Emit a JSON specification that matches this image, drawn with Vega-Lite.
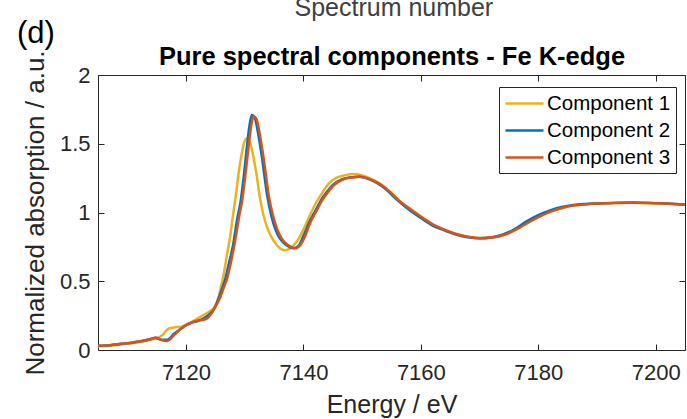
{
  "$schema": "https://vega.github.io/schema/vega-lite/v6.json",
  "width": 587,
  "height": 275,
  "autosize": {"type": "none"},
  "padding": {"left": 98, "top": 75, "right": 2, "bottom": 69},
  "background": "white",
  "datasets": {
    "spectra": [
      {"c":"Component 1","e":7105,"a":0.025},{"c":"Component 1","e":7107,"a":0.03},{"c":"Component 1","e":7109,"a":0.04},{"c":"Component 1","e":7111,"a":0.05},{"c":"Component 1","e":7112.5,"a":0.06},{"c":"Component 1","e":7114,"a":0.075},{"c":"Component 1","e":7115,"a":0.085},{"c":"Component 1","e":7116,"a":0.11},{"c":"Component 1","e":7117,"a":0.155},{"c":"Component 1","e":7118,"a":0.165},{"c":"Component 1","e":7119,"a":0.168},{"c":"Component 1","e":7120,"a":0.185},{"c":"Component 1","e":7121,"a":0.205},{"c":"Component 1","e":7122,"a":0.23},{"c":"Component 1","e":7123,"a":0.255},{"c":"Component 1","e":7124,"a":0.28},{"c":"Component 1","e":7124.8,"a":0.31},{"c":"Component 1","e":7125.5,"a":0.38},{"c":"Component 1","e":7126,"a":0.47},{"c":"Component 1","e":7126.5,"a":0.57},{"c":"Component 1","e":7127,"a":0.7},{"c":"Component 1","e":7127.5,"a":0.82},{"c":"Component 1","e":7128,"a":0.98},{"c":"Component 1","e":7128.5,"a":1.13},{"c":"Component 1","e":7129,"a":1.3},{"c":"Component 1","e":7129.5,"a":1.43},{"c":"Component 1","e":7130,"a":1.52},{"c":"Component 1","e":7130.4,"a":1.54},{"c":"Component 1","e":7130.9,"a":1.51},{"c":"Component 1","e":7131.5,"a":1.4},{"c":"Component 1","e":7132,"a":1.28},{"c":"Component 1","e":7132.5,"a":1.13},{"c":"Component 1","e":7133.2,"a":0.98},{"c":"Component 1","e":7134,"a":0.87},{"c":"Component 1","e":7135,"a":0.79},{"c":"Component 1","e":7136,"a":0.74},{"c":"Component 1","e":7136.8,"a":0.725},{"c":"Component 1","e":7137.6,"a":0.735},{"c":"Component 1","e":7138.5,"a":0.77},{"c":"Component 1","e":7139.2,"a":0.81},{"c":"Component 1","e":7140.2,"a":0.895},{"c":"Component 1","e":7141,"a":0.97},{"c":"Component 1","e":7142,"a":1.06},{"c":"Component 1","e":7143,"a":1.13},{"c":"Component 1","e":7144.3,"a":1.21},{"c":"Component 1","e":7145.5,"a":1.25},{"c":"Component 1","e":7147,"a":1.27},{"c":"Component 1","e":7148.5,"a":1.28},{"c":"Component 1","e":7150,"a":1.27},{"c":"Component 1","e":7151.5,"a":1.245},{"c":"Component 1","e":7153,"a":1.21},{"c":"Component 1","e":7154.5,"a":1.16},{"c":"Component 1","e":7156.2,"a":1.09},{"c":"Component 1","e":7158,"a":1.025},{"c":"Component 1","e":7160,"a":0.965},{"c":"Component 1","e":7162,"a":0.91},{"c":"Component 1","e":7164,"a":0.873},{"c":"Component 1","e":7166,"a":0.843},{"c":"Component 1","e":7168,"a":0.823},{"c":"Component 1","e":7170,"a":0.815},{"c":"Component 1","e":7172,"a":0.818},{"c":"Component 1","e":7174,"a":0.835},{"c":"Component 1","e":7176,"a":0.872},{"c":"Component 1","e":7178,"a":0.922},{"c":"Component 1","e":7180,"a":0.968},{"c":"Component 1","e":7182,"a":1.006},{"c":"Component 1","e":7184,"a":1.033},{"c":"Component 1","e":7186,"a":1.05},{"c":"Component 1","e":7188,"a":1.06},{"c":"Component 1","e":7190,"a":1.065},{"c":"Component 1","e":7193,"a":1.069},{"c":"Component 1","e":7196,"a":1.07},{"c":"Component 1","e":7199,"a":1.068},{"c":"Component 1","e":7202,"a":1.064},{"c":"Component 1","e":7205,"a":1.057},
      {"c":"Component 2","e":7105,"a":0.03},{"c":"Component 2","e":7107,"a":0.035},{"c":"Component 2","e":7109,"a":0.045},{"c":"Component 2","e":7111,"a":0.055},{"c":"Component 2","e":7112.5,"a":0.065},{"c":"Component 2","e":7114,"a":0.08},{"c":"Component 2","e":7114.8,"a":0.09},{"c":"Component 2","e":7115.8,"a":0.075},{"c":"Component 2","e":7116.8,"a":0.075},{"c":"Component 2","e":7118,"a":0.12},{"c":"Component 2","e":7119,"a":0.15},{"c":"Component 2","e":7120,"a":0.18},{"c":"Component 2","e":7121,"a":0.2},{"c":"Component 2","e":7122,"a":0.21},{"c":"Component 2","e":7123,"a":0.23},{"c":"Component 2","e":7124,"a":0.26},{"c":"Component 2","e":7124.8,"a":0.3},{"c":"Component 2","e":7125.5,"a":0.37},{"c":"Component 2","e":7126,"a":0.43},{"c":"Component 2","e":7126.7,"a":0.52},{"c":"Component 2","e":7127.3,"a":0.63},{"c":"Component 2","e":7128,"a":0.76},{"c":"Component 2","e":7128.7,"a":0.95},{"c":"Component 2","e":7129.3,"a":1.08},{"c":"Component 2","e":7129.8,"a":1.25},{"c":"Component 2","e":7130.3,"a":1.45},{"c":"Component 2","e":7130.8,"a":1.63},{"c":"Component 2","e":7131.2,"a":1.71},{"c":"Component 2","e":7131.7,"a":1.69},{"c":"Component 2","e":7132.3,"a":1.57},{"c":"Component 2","e":7133,"a":1.38},{"c":"Component 2","e":7133.8,"a":1.13},{"c":"Component 2","e":7134.5,"a":0.98},{"c":"Component 2","e":7135.2,"a":0.88},{"c":"Component 2","e":7136,"a":0.81},{"c":"Component 2","e":7137,"a":0.765},{"c":"Component 2","e":7138.3,"a":0.74},{"c":"Component 2","e":7139.2,"a":0.76},{"c":"Component 2","e":7140,"a":0.83},{"c":"Component 2","e":7141,"a":0.93},{"c":"Component 2","e":7142,"a":1.01},{"c":"Component 2","e":7143,"a":1.09},{"c":"Component 2","e":7144,"a":1.15},{"c":"Component 2","e":7145,"a":1.2},{"c":"Component 2","e":7146.5,"a":1.24},{"c":"Component 2","e":7148,"a":1.255},{"c":"Component 2","e":7149.5,"a":1.26},{"c":"Component 2","e":7151,"a":1.245},{"c":"Component 2","e":7152.5,"a":1.215},{"c":"Component 2","e":7154,"a":1.17},{"c":"Component 2","e":7156,"a":1.09},{"c":"Component 2","e":7158,"a":1.02},{"c":"Component 2","e":7160,"a":0.96},{"c":"Component 2","e":7162,"a":0.905},{"c":"Component 2","e":7164,"a":0.87},{"c":"Component 2","e":7166,"a":0.84},{"c":"Component 2","e":7168,"a":0.82},{"c":"Component 2","e":7170,"a":0.812},{"c":"Component 2","e":7172,"a":0.818},{"c":"Component 2","e":7174,"a":0.84},{"c":"Component 2","e":7176,"a":0.88},{"c":"Component 2","e":7178,"a":0.935},{"c":"Component 2","e":7180,"a":0.98},{"c":"Component 2","e":7182,"a":1.015},{"c":"Component 2","e":7184,"a":1.04},{"c":"Component 2","e":7186,"a":1.055},{"c":"Component 2","e":7188,"a":1.062},{"c":"Component 2","e":7190,"a":1.066},{"c":"Component 2","e":7193,"a":1.07},{"c":"Component 2","e":7196,"a":1.072},{"c":"Component 2","e":7199,"a":1.07},{"c":"Component 2","e":7202,"a":1.066},{"c":"Component 2","e":7205,"a":1.058},
      {"c":"Component 3","e":7105,"a":0.03},{"c":"Component 3","e":7107,"a":0.035},{"c":"Component 3","e":7109,"a":0.045},{"c":"Component 3","e":7111,"a":0.055},{"c":"Component 3","e":7112.5,"a":0.065},{"c":"Component 3","e":7114,"a":0.08},{"c":"Component 3","e":7114.8,"a":0.09},{"c":"Component 3","e":7115.8,"a":0.072},{"c":"Component 3","e":7116.8,"a":0.066},{"c":"Component 3","e":7118,"a":0.11},{"c":"Component 3","e":7119,"a":0.15},{"c":"Component 3","e":7120,"a":0.18},{"c":"Component 3","e":7121,"a":0.2},{"c":"Component 3","e":7122,"a":0.215},{"c":"Component 3","e":7123,"a":0.22},{"c":"Component 3","e":7123.6,"a":0.23},{"c":"Component 3","e":7124.4,"a":0.27},{"c":"Component 3","e":7125.2,"a":0.33},{"c":"Component 3","e":7125.8,"a":0.38},{"c":"Component 3","e":7126.4,"a":0.45},{"c":"Component 3","e":7127,"a":0.52},{"c":"Component 3","e":7127.6,"a":0.63},{"c":"Component 3","e":7128.3,"a":0.78},{"c":"Component 3","e":7129,"a":0.96},{"c":"Component 3","e":7129.6,"a":1.1},{"c":"Component 3","e":7130.1,"a":1.27},{"c":"Component 3","e":7130.6,"a":1.46},{"c":"Component 3","e":7131.1,"a":1.63},{"c":"Component 3","e":7131.5,"a":1.7},{"c":"Component 3","e":7132,"a":1.68},{"c":"Component 3","e":7132.6,"a":1.56},{"c":"Component 3","e":7133.3,"a":1.37},{"c":"Component 3","e":7134.1,"a":1.12},{"c":"Component 3","e":7134.8,"a":0.98},{"c":"Component 3","e":7135.5,"a":0.88},{"c":"Component 3","e":7136.3,"a":0.81},{"c":"Component 3","e":7137.3,"a":0.765},{"c":"Component 3","e":7138.6,"a":0.74},{"c":"Component 3","e":7139.5,"a":0.765},{"c":"Component 3","e":7140.3,"a":0.83},{"c":"Component 3","e":7141.2,"a":0.93},{"c":"Component 3","e":7142.2,"a":1.01},{"c":"Component 3","e":7143.2,"a":1.09},{"c":"Component 3","e":7144.2,"a":1.15},{"c":"Component 3","e":7145.2,"a":1.2},{"c":"Component 3","e":7146.7,"a":1.24},{"c":"Component 3","e":7148.2,"a":1.255},{"c":"Component 3","e":7149.7,"a":1.26},{"c":"Component 3","e":7151.2,"a":1.245},{"c":"Component 3","e":7152.7,"a":1.215},{"c":"Component 3","e":7154.2,"a":1.17},{"c":"Component 3","e":7156.2,"a":1.09},{"c":"Component 3","e":7158.2,"a":1.025},{"c":"Component 3","e":7160.2,"a":0.965},{"c":"Component 3","e":7162.2,"a":0.91},{"c":"Component 3","e":7164.2,"a":0.872},{"c":"Component 3","e":7166.2,"a":0.842},{"c":"Component 3","e":7168.2,"a":0.822},{"c":"Component 3","e":7170.2,"a":0.813},{"c":"Component 3","e":7172.2,"a":0.818},{"c":"Component 3","e":7174.2,"a":0.838},{"c":"Component 3","e":7176.2,"a":0.875},{"c":"Component 3","e":7178.2,"a":0.925},{"c":"Component 3","e":7180.2,"a":0.97},{"c":"Component 3","e":7182.2,"a":1.008},{"c":"Component 3","e":7184.2,"a":1.035},{"c":"Component 3","e":7186.2,"a":1.052},{"c":"Component 3","e":7188.2,"a":1.06},{"c":"Component 3","e":7190.2,"a":1.065},{"c":"Component 3","e":7193,"a":1.069},{"c":"Component 3","e":7196,"a":1.07},{"c":"Component 3","e":7199,"a":1.069},{"c":"Component 3","e":7202,"a":1.065},{"c":"Component 3","e":7205,"a":1.058}
    ],
    "labels": [
      {"t": "(d)"}
    ],
    "toplabel": [
      {"t": "Spectrum number"}
    ]
  },
  "layer": [
    {
      "data": {"name": "spectra"},
      "mark": {"type": "line", "strokeWidth": 2.5, "interpolate": "monotone", "clip": true},
      "encoding": {
        "x": {"field": "e", "type": "quantitative", "scale": {"domain": [7105, 7205], "nice": false, "zero": false},
              "axis": {"orient": "bottom", "values": [7120, 7140, 7160, 7180, 7200], "format": "d", "title": "Energy / eV", "labelPadding": 18, "titlePadding": 9}},
        "y": {"field": "a", "type": "quantitative", "scale": {"domain": [0, 2], "nice": false, "zero": false},
              "axis": {"orient": "left", "values": [0, 0.5, 1, 1.5, 2], "format": "~g", "title": "Normalized absorption / a.u.", "titleFontSize": 26, "labelPadding": 14, "titlePadding": 11}},
        "color": {"field": "c", "type": "nominal",
                  "scale": {"domain": ["Component 1", "Component 2", "Component 3"], "range": ["#EDB120", "#0072BD", "#D95319"]},
                  "legend": {"orient": "none", "legendX": 401, "legendY": 12, "title": null, "symbolType": "M-1,0H2.8", "symbolSize": 400, "symbolStrokeWidth": 2.5,
                             "labelFont": "Liberation Sans", "labelFontSize": 20.5, "labelColor": "#000000", "labelOffset": 20, "padding": 5, "rowPadding": 5,
                             "strokeColor": "#262626", "fillColor": "#FFFFFF", "cornerRadius": 0}}
      }
    },
    {
      "data": {"name": "spectra"},
      "mark": {"type": "line", "strokeOpacity": 0},
      "encoding": {
        "x": {"field": "e", "type": "quantitative", "axis": {"orient": "top", "values": [7120, 7140, 7160, 7180, 7200], "labels": false,
              "title": "Pure spectral components - Fe K-edge", "titleFontWeight": "bold", "titleFontSize": 25.5, "titleColor": "#000000", "titlePadding": 5}},
        "y": {"field": "a", "type": "quantitative", "axis": {"orient": "right", "values": [0, 0.5, 1, 1.5, 2], "labels": false, "title": null}}
      }
    },
    {
      "data": {"name": "labels"},
      "mark": {"type": "text", "font": "Liberation Sans", "fontSize": 31, "color": "#000000", "align": "left", "baseline": "alphabetic"},
      "encoding": {
        "x": {"datum": 7091.2, "type": "quantitative", "axis": null},
        "y": {"datum": 2.235, "type": "quantitative", "axis": null},
        "text": {"field": "t"}
      }
    },
    {
      "data": {"name": "toplabel"},
      "mark": {"type": "text", "font": "Liberation Sans", "fontSize": 25, "color": "#404040", "align": "center", "baseline": "alphabetic"},
      "encoding": {
        "x": {"datum": 7155.4, "type": "quantitative", "axis": null},
        "y": {"datum": 2.43, "type": "quantitative", "axis": null},
        "text": {"field": "t"}
      }
    }
  ],
  "resolve": {"axis": {"x": "independent", "y": "independent"}},
  "config": {
    "font": "Liberation Sans",
    "view": {"stroke": null},
    "axis": {"grid": false, "domainColor": "#262626", "domainWidth": 1, "tickColor": "#262626", "tickSize": -6, "tickWidth": 1,
             "labelColor": "#262626", "titleColor": "#262626", "labelFont": "Liberation Sans", "titleFont": "Liberation Sans",
             "labelFontSize": 22, "titleFontSize": 25, "titleFontWeight": "normal"}
  }
}
